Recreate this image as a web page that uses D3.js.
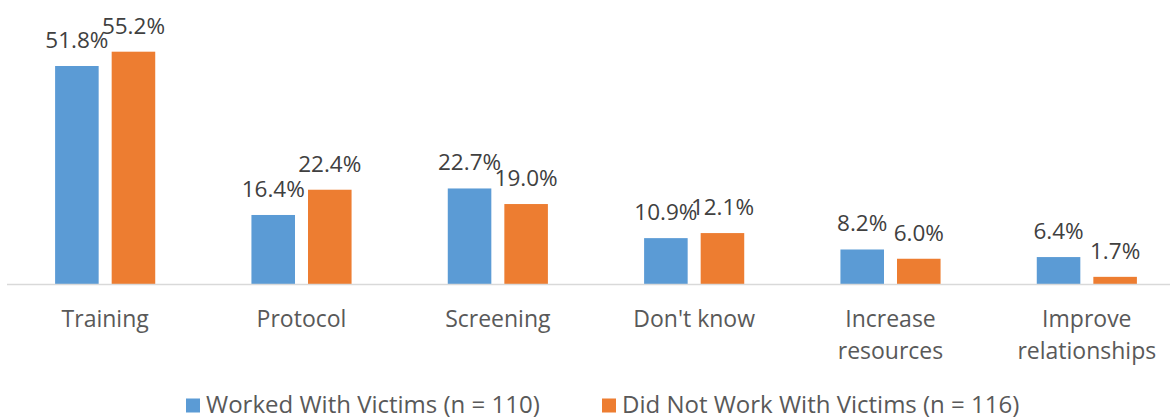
<!DOCTYPE html>
<html>
<head>
<meta charset="utf-8">
<script src="https://cdn.jsdelivr.net/npm/d3@7"></script>
<style>
  body { margin: 0; background: #fff; }
  text { font-family: 'Open Sans', sans-serif; }
</style>
</head>
<body>
<script>
// Data
const categories = ['Training', 'Protocol', 'Screening', "Don't know", 'Increase\nresources', 'Improve\nrelationships']
const seriesNames = ['Worked With Victims (n = 110)', 'Did Not Work With Victims (n = 116)']
const worked = [51.8, 16.4, 22.7, 10.9, 8.2, 6.4]
const didNot = [55.2, 22.4, 19.0, 12.1, 6.0, 1.7]

const colors = ['#5B9BD5', '#ED7D31']
const width = 1170
const height = 419
const baseY = 284

const svg = d3.select('body').append('svg')
  .attr('width', width)
  .attr('height', height)

const x = d3.scaleBand()
  .domain(categories)
  .range([7, 1185])

const inner = d3.scaleBand()
  .domain([0, 1])
  .range([x.bandwidth() * 0.245, x.bandwidth() * 0.755])
  .paddingInner(0.23)

const y = d3.scaleLinear()
  .domain([0, 51.8])
  .range([baseY, 66])

const series = [worked, didNot]

// Bars + value labels
series.forEach((vals, s) => {
  const g = svg.append('g')
  categories.forEach((c, i) => {
    const bx = x(c) + inner(s)
    g.append('rect')
      .attr('x', bx)
      .attr('y', y(vals[i]))
      .attr('width', inner.bandwidth())
      .attr('height', baseY - y(vals[i]))
      .attr('fill', colors[s])

    g.append('text')
      .attr('x', bx + inner.bandwidth() / 2)
      .attr('y', y(vals[i]) - 18)
      .attr('text-anchor', 'middle')
      .style('font-size', '22.5px')
      .style('fill', '#404040')
      .text(vals[i].toFixed(1) + '%')
  })
})

// Axis line
svg.append('line')
  .attr('x1', 7).attr('x2', width)
  .attr('y1', baseY + 0.5).attr('y2', baseY + 0.5)
  .attr('stroke', '#D9D9D9')
  .attr('stroke-width', 1.5)

// Category labels
categories.forEach(c => {
  const t = svg.append('text')
    .attr('text-anchor', 'middle')
    .style('font-size', '23px')
    .style('fill', '#595959')
  c.split('\n').forEach((line, i) => {
    t.append('tspan')
      .attr('x', x(c) + x.bandwidth() / 2)
      .attr('y', 327 + i * 31.5)
      .text(line)
  })
})

// Legend (kept just inside the bottom edge)
const legendX = [186, 602]
seriesNames.forEach((name, i) => {
  svg.append('rect')
    .attr('x', legendX[i]).attr('y', 398.5)
    .attr('width', 14).attr('height', 14)
    .attr('fill', colors[i])
  svg.append('text')
    .attr('x', legendX[i] + 20).attr('y', 412.5)
    .style('font-size', '24px')
    .style('fill', '#595959')
    .text(name)
})
</script>
</body>
</html>
